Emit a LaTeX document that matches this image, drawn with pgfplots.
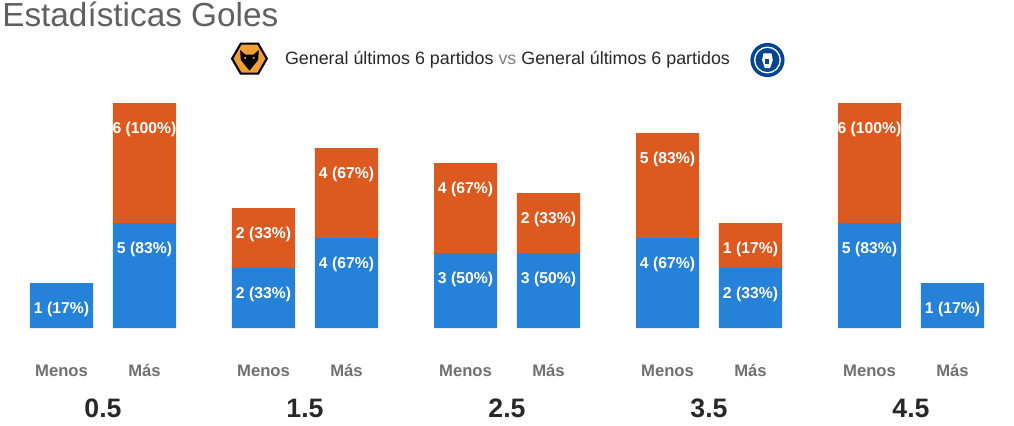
\documentclass[border=0pt]{standalone}
\usepackage{fontspec}
\setmainfont{Liberation Sans}
\usepackage{pgfplots}
\pgfplotsset{compat=1.18}
\definecolor{cblue}{RGB}{38,129,217}
\definecolor{corange}{RGB}{220,89,31}
\definecolor{titlegray}{RGB}{96,96,96}
\definecolor{labgray}{RGB}{112,112,112}
\definecolor{darktext}{RGB}{40,40,40}
\definecolor{vsgray}{RGB}{130,130,130}
\definecolor{wolfgold}{RGB}{240,160,50}
\definecolor{chelsea}{RGB}{3,70,148}
\begin{document}
\begin{tikzpicture}
\useasboundingbox (0,0) rectangle (760.5pt,-318.75pt);
% title
\node[anchor=base west, inner sep=0pt, font=\fontsize{25}{29}\selectfont, text=titlegray] at (1.5pt,-19.5pt) {Estadísticas Goles};
% legend text
\node[anchor=base, inner sep=0pt, font=\fontsize{13.4}{15}\selectfont, text=darktext] at (380.6pt,-48pt) {General últimos 6 partidos \textcolor{vsgray}{vs} General últimos 6 partidos};
% Wolves logo
\draw[line width=1.6pt, fill=wolfgold] (187.1pt,-44pt) +(0:13pt) -- +(60:13pt) -- +(120:13pt) -- +(180:13pt) -- +(240:13pt) -- +(300:13pt) -- cycle;
\fill[black] (187.1pt,-44pt) +(-7pt,6.5pt) -- +(-3pt,3pt) -- +(3pt,3pt) -- +(7pt,6.5pt) -- +(6.5pt,-1pt) -- +(0pt,-9pt) -- +(-6.5pt,-1pt) -- cycle;
\fill[wolfgold] (187.1pt,-44pt) +(-3.2pt,0.5pt) circle (0.9pt) +(3.2pt,0.5pt) circle (0.9pt);
% Chelsea logo
\fill[chelsea] (575.6pt,-45pt) circle (12.8pt);
\draw[white, line width=1pt] (575.6pt,-45pt) circle (9.6pt);
\fill[white] (575.6pt,-45pt) +(-3pt,5pt) -- +(3pt,5pt) -- +(4pt,0pt) -- +(2pt,-6pt) -- +(-2pt,-6pt) -- +(-4pt,0pt) -- cycle;
\fill[chelsea] (575.6pt,-45pt) +(-1.5pt,1pt) rectangle +(1.5pt,-3pt);
\begin{axis}[
  anchor=origin, at={(77.25pt,-246pt)},
  x=151.5pt, y=11.25pt,
  xmin=-0.5, xmax=4.5, ymin=0, ymax=16,
  clip=false,
  ybar stacked, bar width=0.312,
  axis line style={draw=none},
  major tick length=0pt, ytick=\empty,
  xtick={-0.2054,0.2054,0.7946,1.2054,1.7946,2.2054,2.7946,3.2054,3.7946,4.2054},
  xticklabels={Menos,Más,Menos,Más,Menos,Más,Menos,Más,Menos,Más},
  xticklabel style={anchor=base, yshift=-36pt, font=\bfseries\fontsize{12.5}{14}\selectfont, text=labgray},
  extra x ticks={0,1,2,3,4},
  extra x tick labels={0.5,1.5,2.5,3.5,4.5},
  extra x tick style={xticklabel style={yshift=-30.75pt, font=\bfseries\fontsize{20}{24}\selectfont, text=darktext}},
  point meta=explicit symbolic,
  nodes near coords,
  visualization depends on={rawy \as \rawy},
  every node near coord/.append style={anchor=center, yshift={(\rawy+2)*5.625pt-19.8pt}, font=\bfseries\fontsize{11.8}{13}\selectfont, text=white},
  y filter/.expression={y>0 ? y+2 : 0},
]
\addplot[fill=cblue, draw=none] coordinates {
 (-0.2054,1)[1 (17\%)] (0.2054,5)[5 (83\%)]
 (0.7946,2)[2 (33\%)] (1.2054,4)[4 (67\%)]
 (1.7946,3)[3 (50\%)] (2.2054,3)[3 (50\%)]
 (2.7946,4)[4 (67\%)] (3.2054,2)[2 (33\%)]
 (3.7946,5)[5 (83\%)] (4.2054,1)[1 (17\%)]
};
\addplot[fill=corange, draw=none] coordinates {
 (-0.2054,0)[] (0.2054,6)[6 (100\%)]
 (0.7946,2)[2 (33\%)] (1.2054,4)[4 (67\%)]
 (1.7946,4)[4 (67\%)] (2.2054,2)[2 (33\%)]
 (2.7946,5)[5 (83\%)] (3.2054,1)[1 (17\%)]
 (3.7946,6)[6 (100\%)] (4.2054,0)[]
};
\end{axis}
\end{tikzpicture}
\end{document}
